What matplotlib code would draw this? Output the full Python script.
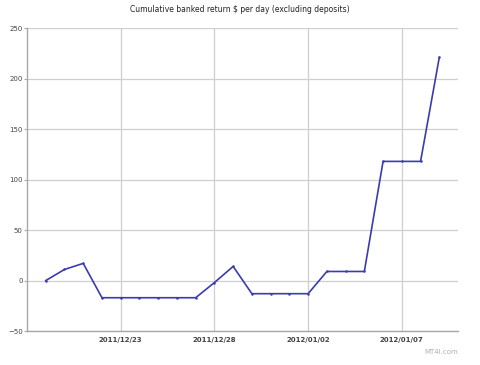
import matplotlib
matplotlib.use("Agg")
import matplotlib.pyplot as plt
import pandas as pd

# daily cumulative banked return
dates = pd.date_range("2011-12-19", "2012-01-09", freq="D")
returns = [0, 11, 17, -17, -17, -17, -17, -17, -17, -2, 14, -13, -13, -13, -13,
           9, 9, 9, 118, 118, 118, 221]
tick_dates = ["2011-12-23", "2011-12-28", "2012-01-02", "2012-01-07"]
tick_labels = ["2011/12/23", "2011/12/28", "2012/01/02", "2012/01/07"]
y_ticks = [-50, 0, 50, 100, 150, 200, 250]

fig = plt.figure(figsize=(4.8, 3.65), dpi=100)
ax = fig.add_axes([0.05625, 0.093, 0.898, 0.83])

ax.plot(dates, returns, color="#3b3bb0", linewidth=1.2, marker="o",
        markersize=0.8, zorder=3)

ax.set_xlim(pd.Timestamp("2011-12-18"), pd.Timestamp("2012-01-10"))
ax.set_ylim(-50, 250)
ax.set_yticks(y_ticks)
ax.set_xticks(pd.to_datetime(tick_dates))
ax.set_xticklabels(tick_labels)

ax.grid(True, color="#cfcfcf", linewidth=0.9)
ax.set_axisbelow(True)
for side in ["top", "right"]:
    ax.spines[side].set_visible(False)
for side in ["left", "bottom"]:
    ax.spines[side].set_color("#a8a8a8")
    ax.spines[side].set_linewidth(1.0)

ax.tick_params(axis="y", labelsize=5, colors="#a8a8a8", labelcolor="#444444",
               length=2, pad=1)
ax.tick_params(axis="x", labelsize=5, length=0, pad=4, labelcolor="#444444")
for lbl in ax.get_xticklabels():
    lbl.set_fontweight("bold")

fig.text(0.5, 0.975, "Cumulative banked return $ per day (excluding deposits)",
         ha="center", va="center", fontsize=5.5, color="#222222")
fig.text(0.955, 0.035, "MT4i.com", ha="right", va="center", fontsize=5,
         color="#b0b0b0")

fig.savefig("out.png", dpi=100)
